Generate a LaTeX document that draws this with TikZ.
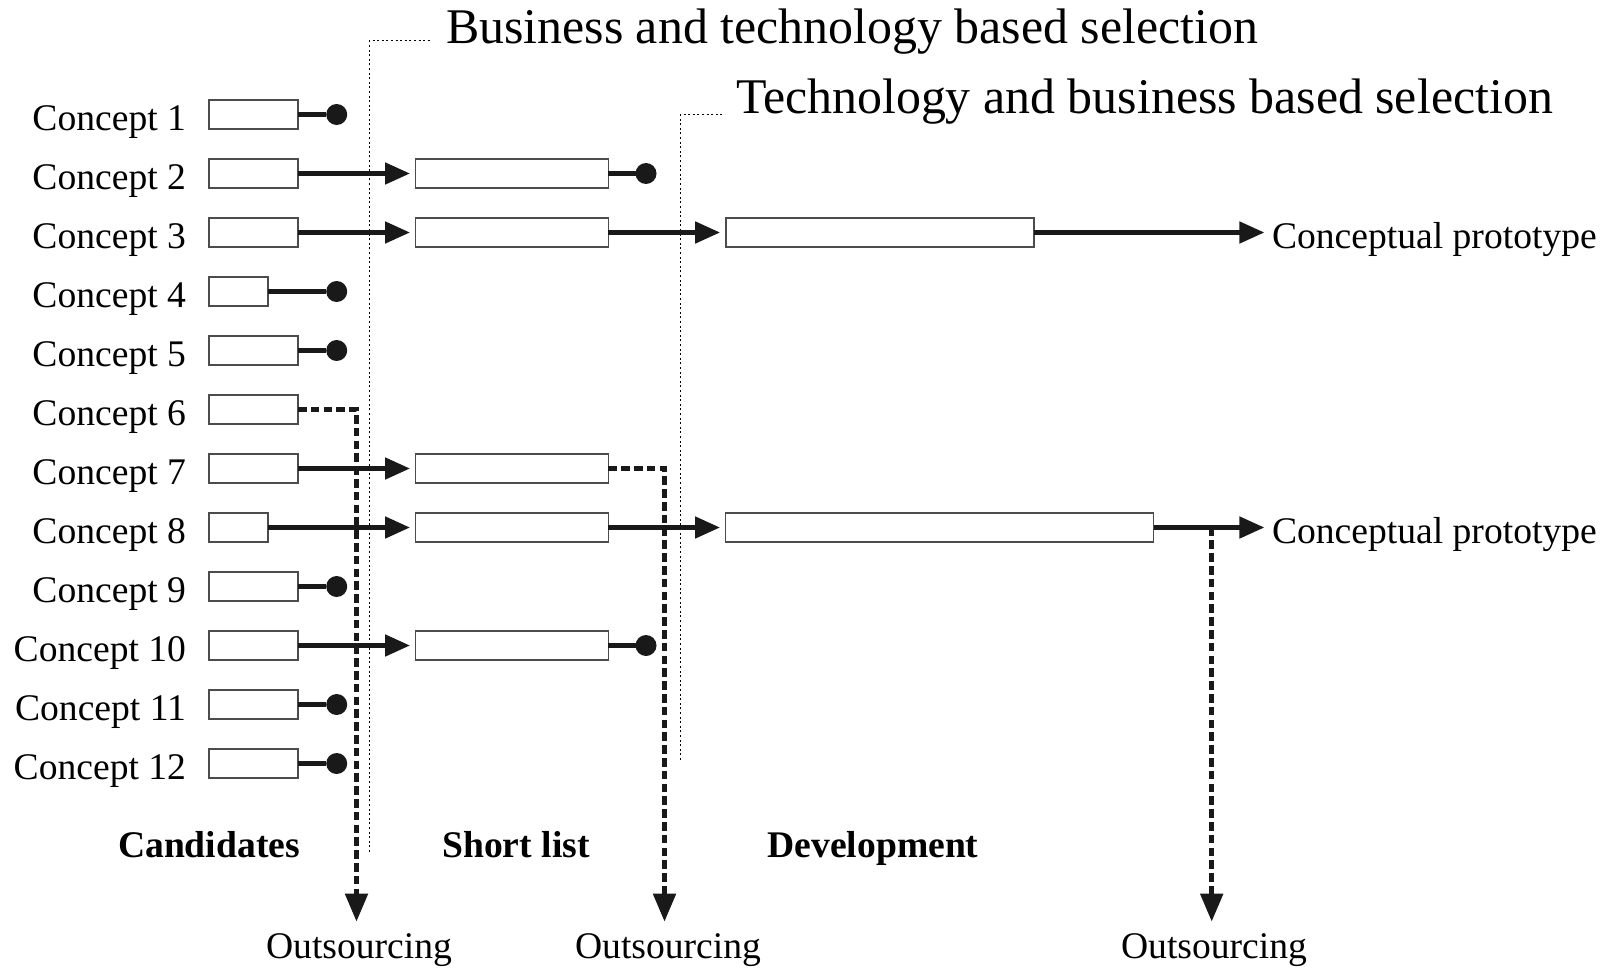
\documentclass[tikz,border=0pt]{standalone}
\usepackage{fontspec}
\setmainfont{Liberation Serif}
\usetikzlibrary{arrows.meta}
\begin{document}
\begin{tikzpicture}[x=0.5pt,y=-0.5pt,
  every node/.style={inner sep=0pt, outer sep=0pt},
  lbl/.style={font=\fontsize{18.8pt}{22pt}\selectfont},
  ttl/.style={font=\fontsize{24.95pt}{29pt}\selectfont},
  hdr/.style={font=\fontsize{18.8pt}{22pt}\selectfont\bfseries},
  box/.style={draw=black!70, line width=0.8pt, fill=white, minimum height=14.5pt},
  cand/.style={box, minimum width=44.5pt},
  candshort/.style={box, minimum width=29.5pt},
  slist/.style={box, minimum width=96.35pt},
  dot/.style={circle, fill=black!90, minimum size=10.5pt},
  conn/.style={line width=2.4pt, draw=black!90},
  flow/.style={conn, -{Triangle[length=12.5pt,width=10.5pt]}, shorten >=2.8pt},
  outflow/.style={line width=2.5pt, draw=black!90, dash pattern=on 4.3pt off 2.1pt,
    -{Triangle[length=14pt,width=11pt]}},
  guide/.style={line width=0.5pt, dash pattern=on 1pt off 1.3pt}
]
\useasboundingbox (0,0) rectangle (1605,968);

% selection guides
\coordinate (g1a) at (369.3,852);
\coordinate (g1b) at (430,41);
\coordinate (g2a) at (680,760);
\coordinate (g2b) at (725,115);
\draw[guide] (g1a) |- (g1b);
\draw[guide] (g2a) |- (g2b);
\node[ttl, anchor=base west] (t1) at (446,43.3) {Business and technology based selection};
\node[ttl, anchor=base west] (t2) at (736,113.3) {Technology and business based selection};

% concept labels and candidate boxes
\foreach \k in {1,...,12} {
  \pgfmathsetmacro\ry{114.5+59*(\k-1)}
  \node[lbl, anchor=base east] (l\k) at (186,\ry+16) {Concept \k};
}
\foreach \k in {1,2,3,5,6,7,9,10,11,12} {
  \pgfmathsetmacro\ry{114.5+59*(\k-1)}
  \node[cand] (c\k) at (253.5,\ry) {};
}
\foreach \k in {4,8} {
  \pgfmathsetmacro\ry{114.5+59*(\k-1)}
  \node[candshort] (c\k) at (238.5,\ry) {};
}

% short list boxes
\foreach \k in {2,3,7,8,10} {
  \pgfmathsetmacro\ry{114.5+59*(\k-1)}
  \node[slist] (s\k) at (512,\ry) {};
}

% development boxes
\node[box, minimum width=154pt] (d3) at (879.75,232.5) {};
\node[box, minimum width=214pt] (d8) at (939.65,527.5) {};

% rejected candidates
\foreach \k in {1,4,5,9,11,12} {
  \pgfmathsetmacro\ry{114.5+59*(\k-1)}
  \node[dot] (e\k) at (336.7,\ry) {};
  \draw[conn] (c\k.east) -- (e\k.west);
}
\node[dot] (f2) at (646,173.5) {};
\node[dot] (f10) at (646,645.5) {};
\draw[conn] (s2.east) -- (f2.west);
\draw[conn] (s10.east) -- (f10.west);

% candidates to short list
\foreach \k in {2,3,7,8,10} {
  \draw[flow] (c\k.east) -- (s\k.west);
}
% short list to development
\draw[flow] (s3.east) -- (d3.west);
\draw[flow] (s8.east) -- (d8.west);

% conceptual prototypes
\node[lbl, anchor=base west] (p3) at (1272,248.5) {Conceptual prototype};
\node[lbl, anchor=base west] (p8) at (1272,543.5) {Conceptual prototype};
\draw[flow, shorten >=3.8pt] (d3.east) -- (d3.east -| p3.west);
\draw[flow, shorten >=3.8pt] (d8.east) -- (d8.east -| p8.west);

% outsourcing
\coordinate (a1) at (356.5,921.7);
\coordinate (a2) at (664.5,921.7);
\coordinate (a3) at (1211.7,921.7);
\coordinate (b8) at (1211.7,527.5);
\draw[outflow] (c6.east) -| (a1);
\draw[outflow] (s7.east) -| (a2);
\draw[outflow] (b8) -- (a3);
\node[lbl, anchor=base] (o1) at (359,958) {Outsourcing};
\node[lbl, anchor=base] (o2) at (668,958) {Outsourcing};
\node[lbl, anchor=base] (o3) at (1214,958) {Outsourcing};

% stage headings
\node[hdr, anchor=base] (h1) at (209,857) {Candidates};
\node[hdr, anchor=base] (h2) at (516,857) {Short list};
\node[hdr, anchor=base] (h3) at (873,857) {Development};
\end{tikzpicture}
\end{document}
